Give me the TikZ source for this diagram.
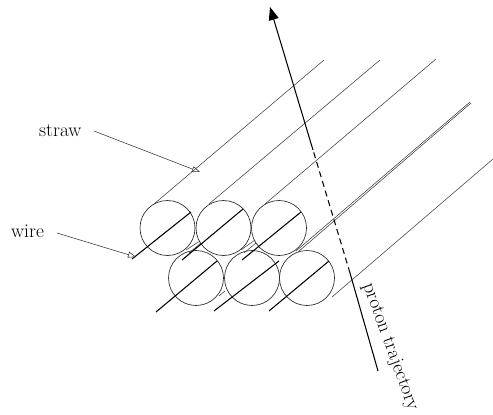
\documentclass[tikz,border=0pt]{standalone}
\usetikzlibrary{arrows.meta}
\tikzset{
  straw/.style={draw=black!75,line width=0.55pt},
  tube/.style={circle,draw=black!85,line width=0.65pt,minimum size=55pt,inner sep=0pt},
  wireline/.style={draw=black,line width=1.05pt},
  pointer/.style={draw=black!80,line width=0.55pt,-{Triangle[open,length=8pt,width=6pt]}},
  lab/.style={font=\fontsize{19.5}{22}\selectfont,inner sep=0pt}
}
\begin{document}
\begin{tikzpicture}[x=1pt,y=-1pt]
\useasboundingbox (0,0) rectangle (493,415);
% tubes
\node[tube] (t1) at (167.5,228) {};
\node[tube] (t2) at (223.5,228) {};
\node[tube] (t3) at (279,228) {};
\node[tube] (b1) at (196,278) {};
\node[tube] (b2) at (252,278) {};
\node[tube] (b3) at (307,278) {};
% straw walls
\coordinate (s1a) at (154,204); \coordinate (s1b) at (324,60);
\coordinate (s2a) at (209,204); \coordinate (s2b) at (380,60);
\coordinate (s3a) at (265,204); \coordinate (s3b) at (436,59);
\coordinate (s4a) at (296,251); \coordinate (s4b) at (470,102);
\coordinate (s4c) at (298,252); \coordinate (s4d) at (471,103);
\coordinate (s5a) at (332,297); \coordinate (s5b) at (493,159);
\draw[straw] (s1a) -- (s1b);
\draw[straw] (s2a) -- (s2b);
\draw[straw] (s3a) -- (s3b);
\draw[straw] (s4a) -- (s4b);
\draw[straw] (s4c) -- (s4d);
\draw[straw] (s5a) -- (s5b);
% short wall pieces between tubes
\coordinate (g1a) at (186,250); \coordinate (g1b) at (200,241);
\coordinate (g2a) at (189,253); \coordinate (g2b) at (201,243);
\coordinate (g3a) at (241,250); \coordinate (g3b) at (255,240);
\coordinate (g4a) at (244,253); \coordinate (g4b) at (256,243);
\coordinate (g5a) at (219,296); \coordinate (g5b) at (225,291);
\draw[straw] (g1a) -- (g1b);
\draw[straw] (g2a) -- (g2b);
\draw[straw] (g3a) -- (g3b);
\draw[straw] (g4a) -- (g4b);
\draw[straw] (g5a) -- (g5b);
% wires
\coordinate (w1a) at (132,259); \coordinate (w1b) at (191,212);
\coordinate (w2a) at (182,260); \coordinate (w2b) at (243,209);
\coordinate (w3a) at (242,260); \coordinate (w3b) at (301,212);
\coordinate (w4a) at (156,312); \coordinate (w4b) at (217,261);
\coordinate (w5a) at (214,311); \coordinate (w5b) at (279,261);
\coordinate (w6a) at (269,311); \coordinate (w6b) at (329,261);
\draw[wireline] (w1a) -- (w1b);
\draw[wireline] (w2a) -- (w2b);
\draw[wireline] (w3a) -- (w3b);
\draw[wireline] (w4a) -- (w4b);
\draw[wireline] (w5a) -- (w5b);
\draw[wireline] (w6a) -- (w6b);
% proton trajectory
\coordinate (p0) at (378,371);
\coordinate (p1) at (350,273);
\coordinate (p2) at (313,150);
\coordinate (p3) at (270,7);
\draw[line width=1.05pt] (p0) -- (p1);
\draw[line width=1.05pt,dash pattern=on 6pt off 4pt] (p1) -- (p2);
\draw[line width=1.05pt,-{Triangle[length=13pt,width=10pt]}] (p2) -- (p3);
\node[lab,rotate=-70] (ptxt) at (390,347) {proton trajectory};
% labels
\node[lab,anchor=base west] (straw) at (39,136) {straw};
\node[lab,anchor=base west] (wire) at (11,237) {wire};
\coordinate (sa) at (94,131); \coordinate (st) at (200,172);
\coordinate (wa) at (57,233); \coordinate (wt) at (136,257);
\draw[pointer] (sa) -- (st);
\draw[pointer] (wa) -- (wt);
\end{tikzpicture}
\end{document}
